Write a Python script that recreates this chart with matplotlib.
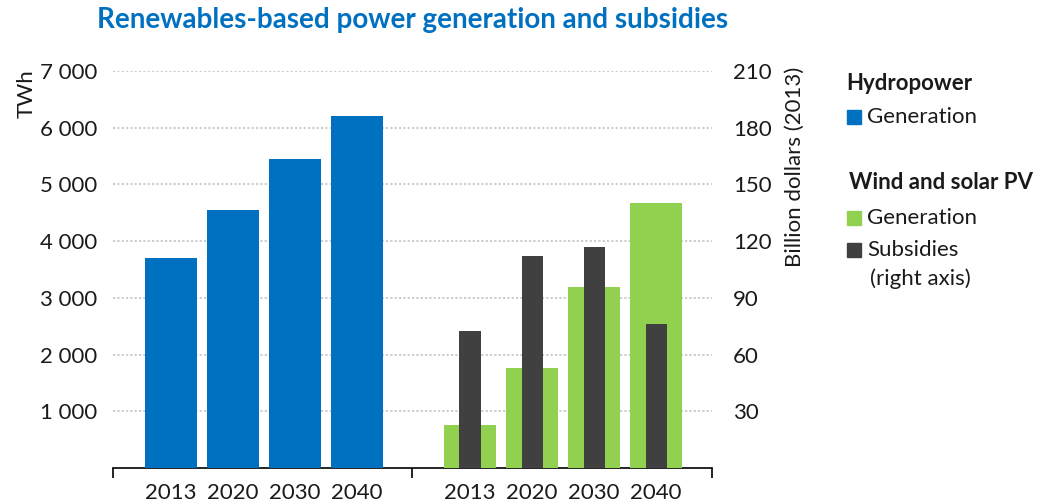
#!/usr/bin/env python3
import matplotlib
matplotlib.use("Agg")
import matplotlib.pyplot as plt
from matplotlib.patches import Rectangle

plt.rcParams["font.family"] = ["Lato", "DejaVu Sans"]

years = ["2013", "2020", "2030", "2040"]
hydro_gen = [3700, 4550, 5450, 6210]          # TWh
wind_solar_gen = [760, 1770, 3200, 4670]      # TWh
wind_solar_subsidies = [72.5, 112, 117, 76]   # billion dollars (2013)

BLUE = "#0070C0"
GREEN = "#92D050"
DARK = "#404040"
GRID = "#C8C8C8"
TXT = "#1a1a1a"
FS = 16

fig = plt.figure(figsize=(10.5, 5.04), dpi=100)
ax = fig.add_axes([0.1076, 0.0714, 0.5705, 0.7877])
ax2 = ax.twinx()

hydro_x = [i for i in range(len(years))]
wind_x = [i + 4.82 for i in range(len(years))]

ax.bar(hydro_x, hydro_gen, width=0.84, color=BLUE, zorder=3)
ax.bar(wind_x, wind_solar_gen, width=0.84, color=GREEN, zorder=3)
ax2.bar(wind_x, wind_solar_subsidies, width=0.34, color=DARK, zorder=4)

ax.set_xlim(-0.935, 8.72)
ax.set_ylim(0, 7000)
ax2.set_ylim(0, 210)

ax.set_yticks(range(1000, 7001, 1000))
ax.set_yticklabels([f"{v // 1000} 000" for v in range(1000, 7001, 1000)])
ax2.set_yticks(range(30, 211, 30))
ax2.set_yticklabels([str(v) for v in range(30, 211, 30)])

ax.yaxis.grid(True, linestyle=(0, (1.2, 1.2)), color=GRID, linewidth=1.3, zorder=0)
ax.set_axisbelow(True)

ax.set_xticks(hydro_x + wind_x)
ax.set_xticklabels(years + years)
ax.set_xticks([-0.935, 3.89, 8.72], minor=True)
ax.tick_params(axis="x", which="major", length=0, labelsize=FS, pad=11, colors=TXT)
ax.tick_params(axis="x", which="minor", length=7, width=1.2, direction="out")
ax.tick_params(axis="y", length=0, labelsize=FS, pad=11, colors=TXT)
ax2.tick_params(axis="y", length=0, labelsize=FS, pad=15, colors=TXT)

for a in (ax, ax2):
    for side in ("top", "left", "right"):
        a.spines[side].set_visible(False)
ax.spines["bottom"].set_linewidth(1.2)
ax2.spines["bottom"].set_visible(False)

fig.text(0.025, 0.862, "TWh", rotation=90, fontsize=FS, ha="center", va="top", color=TXT)
fig.text(0.757, 0.867, "Billion dollars (2013)", rotation=90, fontsize=FS,
         ha="center", va="top", color=TXT)

fig.text(0.393, 0.96, "Renewables-based power generation and subsidies",
         fontsize=20, fontweight="bold", color=BLUE, ha="center", va="center")

# legend
sq = 0.0135
fig.text(0.806, 0.835, "Hydropower", fontsize=FS, fontweight="bold", ha="left", va="center", color=TXT)
fig.text(0.826, 0.768, "Generation", fontsize=FS, ha="left", va="center", color=TXT)
fig.add_artist(Rectangle((0.8065, 0.768 - sq * 1.05), sq, sq * 2.1,
                         transform=fig.transFigure, color=BLUE))
fig.text(0.809, 0.637, "Wind and solar PV", fontsize=FS, fontweight="bold", ha="left", va="center", color=TXT)
fig.text(0.826, 0.567, "Generation", fontsize=FS, ha="left", va="center", color=TXT)
fig.add_artist(Rectangle((0.8065, 0.567 - sq * 1.05), sq, sq * 2.1,
                         transform=fig.transFigure, color=GREEN))
fig.text(0.826, 0.504, "Subsidies", fontsize=FS, ha="left", va="center", color=TXT)
fig.add_artist(Rectangle((0.8065, 0.504 - sq * 1.05), sq, sq * 2.1,
                         transform=fig.transFigure, color=DARK))
fig.text(0.829, 0.448, "(right axis)", fontsize=FS, ha="left", va="center", color=TXT)

fig.savefig("out.png", dpi=100)
